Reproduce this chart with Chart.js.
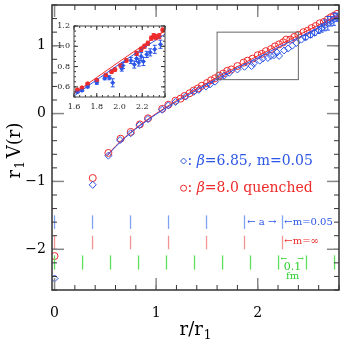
<!DOCTYPE html>
<html>
<head>
<meta charset="utf-8">
<script src="https://cdn.jsdelivr.net/npm/chart.js"></script>
<style>
  html, body { margin: 0; padding: 0; background: #fff; }
  #wrap { position: relative; width: 349px; height: 342px; }
  #main { position: absolute; left: 0; top: 0; }
  #inset { position: absolute; left: 40px; top: 20px; }
</style>
</head>
<body>
<div id="wrap">
  <canvas id="main" width="349" height="342"></canvas>
  <canvas id="inset" width="130" height="95"></canvas>
</div>
<script>
// tick labels
var xTickLabels = [0, 1, 2];
var yTickLabels = [-2, -1, 0, 1];
var insetXTicks = [1.6, 1.8, 2.0, 2.2];
var insetYTicks = [0.6, 0.8, 1.0, 1.2];

// lattice spacing a and 0.1 fm marks, in units of r1
var latticeTicks = [0, 0.374, 0.748, 1.122, 1.496, 1.870, 2.244];
var fmTicks = [0, 0.276, 0.551, 0.827, 1.102, 1.378, 1.654, 1.929, 2.205, 2.480, 2.756];

// beta=8.0 quenched (red circles)
var redX = [0.0, 0.376, 0.53, 0.65, 0.75, 0.84, 0.92, 1.06, 1.12, 1.19, 1.24, 1.28, 1.33, 1.37, 1.41, 1.45,
            1.50, 1.54, 1.58, 1.62, 1.66, 1.70, 1.74, 1.80, 1.86, 1.90, 1.95, 2.00, 2.04, 2.08, 2.13, 2.17,
            2.21, 2.25, 2.28, 2.32, 2.36, 2.40, 2.45, 2.49, 2.53, 2.57, 2.61, 2.65, 2.69, 2.72, 2.75, 2.78];
var redY = [-2.10, -0.95, -0.58, -0.37, -0.27, -0.16, -0.07, 0.07, 0.13, 0.19, 0.22, 0.26, 0.30, 0.34, 0.37, 0.41,
            0.45, 0.49, 0.52, 0.56, 0.59, 0.63, 0.65, 0.70, 0.75, 0.78, 0.81, 0.86, 0.88, 0.92, 0.95, 0.99,
            1.02, 1.05, 1.09, 1.09, 1.13, 1.16, 1.20, 1.22, 1.26, 1.29, 1.33, 1.35, 1.39, 1.42, 1.44, 1.47];

// beta=6.85, m=0.05 (blue diamonds)
var blueX = [0.0, 0.376, 0.53, 0.645, 0.75, 0.835, 0.92, 1.06, 1.12, 1.19, 1.29, 1.37, 1.42, 1.49, 1.53,
             1.58, 1.63, 1.67, 1.72, 1.80, 1.87, 1.94, 1.96, 2.02, 2.05, 2.10, 2.13, 2.16, 2.19, 2.21,
             2.26, 2.30, 2.34, 2.38, 2.43, 2.47, 2.52, 2.56, 2.60, 2.63, 2.66, 2.69, 2.72, 2.75, 2.78];
var blueY = [-2.43, -1.05, -0.62, -0.39, -0.29, -0.17, -0.08, 0.057, 0.12, 0.17, 0.25, 0.32, 0.35, 0.40, 0.43,
             0.47, 0.54, 0.56, 0.60, 0.65, 0.69, 0.70, 0.74, 0.78, 0.81, 0.82, 0.85, 0.86, 0.90, 0.85,
             0.93, 0.96, 1.00, 1.04, 1.09, 1.12, 1.16, 1.19, 1.23, 1.26, 1.30, 1.33, 1.36, 1.39, 1.42];
var blueErr = [0, 0, 0, 0, 0, 0, 0, 0, 0, 0, 0, 0, 0, 0, 0,
               0, 0, 0, 0, 0, 0, 0, 0, 0, 0, 0, 0, 0, 0, 0,
               0, 0, 0, 0, 0, 0.03, 0.04, 0.04, 0.05, 0.06, 0.08, 0.10, 0.07, 0.09, 0.06];

// fit curves
var fitX    = [0.52, 0.6, 0.7, 0.8, 0.9, 1.0, 1.2, 1.4, 1.6, 1.8, 2.0, 2.2, 2.4, 2.6, 2.8];
var fitRed  = [-0.613, -0.48, -0.339, -0.215, -0.103, 0.0, 0.19, 0.366, 0.533, 0.693, 0.85, 1.004, 1.155, 1.305, 1.453];
var fitBlue = [-0.62, -0.49, -0.35, -0.225, -0.115, -0.01, 0.175, 0.345, 0.51, 0.67, 0.825, 0.975, 1.12, 1.27, 1.42];

// inset
var insetRedX   = [1.63, 1.67, 1.72, 1.80, 1.88, 1.93, 1.96, 2.01, 2.06, 2.15, 2.19, 2.22, 2.25, 2.28, 2.30, 2.32, 2.35, 2.38];
var insetRedY   = [0.57, 0.59, 0.63, 0.665, 0.715, 0.75, 0.77, 0.81, 0.86, 0.93, 0.97, 1.00, 1.03, 1.08, 1.10, 1.09, 1.10, 1.16];
var insetRedErr = [0.01, 0.01, 0.01, 0.01, 0.012, 0.015, 0.015, 0.015, 0.015, 0.02, 0.02, 0.02, 0.02, 0.02, 0.025, 0.025, 0.025, 0.02];
var insetBlueX   = [1.63, 1.67, 1.72, 1.80, 1.87, 1.91, 1.94, 2.02, 2.03, 2.10, 2.13, 2.15, 2.17, 2.19, 2.21, 2.24, 2.27, 2.31, 2.36];
var insetBlueY   = [0.55, 0.565, 0.60, 0.64, 0.685, 0.69, 0.64, 0.78, 0.81, 0.86, 0.82, 0.88, 0.84, 0.90, 0.85, 0.92, 0.94, 0.97, 1.02];
var insetBlueErr = [0.01, 0.01, 0.01, 0.015, 0.015, 0.02, 0.04, 0.025, 0.03, 0.03, 0.035, 0.03, 0.035, 0.04, 0.04, 0.03, 0.035, 0.04, 0.04];

var BLUE = '#2b55e6', RED = '#ee2b2b', GREEN = '#2fcf2f';
var SERIF = '"DejaVu Serif", serif';

function pts(xs, ys) {
    return xs.map(function(x, i) { return {x: x, y: ys[i]}; });
}

function line(ctx, x1, y1, x2, y2) {
    ctx.beginPath();
    ctx.moveTo(x1, y1);
    ctx.lineTo(x2, y2);
    ctx.stroke();
}

function minorValues(min, max, step) {
    var out = [];
    for (var k = Math.ceil(min / step - 1e-9); k * step <= max + 1e-9; k++) out.push(k * step);
    return out;
}

// ticks pointing inward on all four sides, plus the frame
function drawBox(chart, o) {
    var ctx = chart.ctx, a = chart.chartArea, xs = chart.scales.x, ys = chart.scales.y;
    ctx.save();
    ctx.lineWidth = 1;
    ctx.strokeStyle = o.minorColor;
    minorValues(xs.min, xs.max, o.xStep).forEach(function(v) {
        var p = xs.getPixelForValue(v);
        line(ctx, p, a.bottom, p, a.bottom - o.minorLen);
        line(ctx, p, a.top, p, a.top + o.minorLen);
    });
    minorValues(ys.min, ys.max, o.yStep).forEach(function(v) {
        var p = ys.getPixelForValue(v);
        line(ctx, a.left, p, a.left + o.minorLen, p);
        line(ctx, a.right, p, a.right - o.minorLen, p);
    });
    ctx.strokeStyle = o.majorColor;
    ctx.lineWidth = o.majorWidth;
    o.xMajor.forEach(function(v) {
        var p = xs.getPixelForValue(v);
        line(ctx, p, a.bottom, p, a.bottom - o.majorLen);
        line(ctx, p, a.top, p, a.top + o.majorLen);
    });
    o.yMajor.forEach(function(v) {
        var p = ys.getPixelForValue(v);
        line(ctx, a.left, p, a.left + o.majorLen, p);
        line(ctx, a.right, p, a.right - o.majorLen, p);
    });
    ctx.strokeStyle = o.frameColor;
    ctx.lineWidth = o.frameWidth;
    ctx.strokeRect(a.left, a.top, a.right - a.left, a.bottom - a.top);
    ctx.restore();
}

var errorBars = {
    id: 'errorBars',
    afterDatasetsDraw: function(chart) {
        var ctx = chart.ctx, ys = chart.scales.y, a = chart.chartArea;
        ctx.save();
        ctx.beginPath();
        ctx.rect(a.left, a.top, a.right - a.left, a.bottom - a.top);
        ctx.clip();
        chart.data.datasets.forEach(function(ds, i) {
            if (!ds.errors) return;
            var meta = chart.getDatasetMeta(i);
            ctx.strokeStyle = ds.borderColor;
            ctx.lineWidth = 1;
            meta.data.forEach(function(el, j) {
                var e = ds.errors[j];
                if (!e) return;
                var y1 = ys.getPixelForValue(ds.data[j].y + e);
                var y2 = ys.getPixelForValue(ds.data[j].y - e);
                line(ctx, el.x, y1, el.x, y2);
                line(ctx, el.x - 2, y1, el.x + 2, y1);
                line(ctx, el.x - 2, y2, el.x + 2, y2);
            });
        });
        ctx.restore();
    }
};

// draws a row of text pieces one after the other, dy shifts a piece down (subscripts)
function runs(ctx, x, y, parts, base) {
    ctx.textBaseline = base || 'middle';
    ctx.textAlign = 'left';
    parts.forEach(function(p) {
        ctx.font = p.font;
        ctx.fillStyle = p.color;
        ctx.fillText(p.t, x, y + (p.dy || 0));
        x += ctx.measureText(p.t).width + (p.gap || 0);
    });
}

function runsWidth(ctx, parts) {
    var w = 0;
    parts.forEach(function(p) {
        ctx.font = p.font;
        w += ctx.measureText(p.t).width + (p.gap || 0);
    });
    return w;
}

var mainDecor = {
    id: 'mainDecor',
    afterDraw: function(chart) {
        var ctx = chart.ctx, xs = chart.scales.x, ys = chart.scales.y, a = chart.chartArea;
        var X = function(v) { return xs.getPixelForValue(v); };
        var Y = function(v) { return ys.getPixelForValue(v); };
        ctx.save();

        // inset region
        ctx.strokeStyle = '#666';
        ctx.lineWidth = 1;
        ctx.strokeRect(X(1.6), Y(1.2), X(2.4) - X(1.6), Y(0.5) - Y(1.2));

        // lattice spacing rows
        ctx.lineWidth = 1.3;
        ctx.strokeStyle = '#7fa2f2';
        latticeTicks.forEach(function(v) { line(ctx, X(v), Y(-1.50), X(v), Y(-1.70)); });
        ctx.strokeStyle = '#f29494';
        latticeTicks.forEach(function(v) { line(ctx, X(v), Y(-1.80), X(v), Y(-2.00)); });
        ctx.strokeStyle = '#5ee05e';
        fmTicks.forEach(function(v) { line(ctx, X(v), Y(-2.09), X(v), Y(-2.30)); });

        var small = '10px ' + SERIF;
        runs(ctx, X(2.045) - 15, Y(-1.61), [{t: '\u2190 a \u2192', font: small, color: BLUE}]);
        runs(ctx, X(2.262), Y(-1.61), [{t: '\u2190m=0.05', font: small, color: BLUE}]);
        runs(ctx, X(2.262), Y(-1.89), [{t: '\u2190m=\u221e', font: small, color: RED}]);
        runs(ctx, X(2.225), Y(-2.14), [{t: '\u2190', font: '8px ' + SERIF, color: GREEN}]);
        runs(ctx, X(2.39), Y(-2.14), [{t: '\u2192', font: '8px ' + SERIF, color: GREEN}]);
        ctx.textAlign = 'center';
        ctx.fillStyle = GREEN;
        ctx.font = '11px ' + SERIF;
        ctx.fillText('0.1', X(2.343), Y(-2.27));
        ctx.font = small;
        ctx.fillText('fm', X(2.343), Y(-2.40));

        // legend
        var big = '14px ' + SERIF, ital = 'italic 14px ' + SERIF;
        var lx = X(1.27), y1 = Y(-0.70), y2 = Y(-1.10);
        ctx.lineWidth = 1;
        ctx.strokeStyle = BLUE;
        ctx.beginPath();
        ctx.moveTo(lx, y1 - 3); ctx.lineTo(lx + 3, y1); ctx.lineTo(lx, y1 + 3); ctx.lineTo(lx - 3, y1);
        ctx.closePath();
        ctx.stroke();
        runs(ctx, lx + 4, y1, [
            {t: ': ', font: big, color: BLUE},
            {t: '\u03b2', font: ital, color: BLUE},
            {t: '=6.85, m=0.05', font: big, color: BLUE}
        ]);
        ctx.strokeStyle = RED;
        ctx.beginPath();
        ctx.arc(lx, y2, 3, 0, Math.PI * 2);
        ctx.stroke();
        runs(ctx, lx + 4, y2, [
            {t: ': ', font: big, color: RED},
            {t: '\u03b2', font: ital, color: RED},
            {t: '=8.0 quenched', font: big, color: RED}
        ]);

        // axis titles with real subscripts
        var tf = '18px ' + SERIF, sf = '12px ' + SERIF;
        var xt = [
            {t: 'r/r', font: tf, color: '#000', gap: 1},
            {t: '1', font: sf, color: '#000', dy: 4}
        ];
        runs(ctx, (a.left + a.right) / 2 - runsWidth(ctx, xt) / 2, 335, xt, 'alphabetic');
        var yt = [
            {t: 'r', font: tf, color: '#000', gap: 1},
            {t: '1', font: sf, color: '#000', dy: 4, gap: 3},
            {t: 'V(r)', font: tf, color: '#000'}
        ];
        ctx.translate(20, (a.top + a.bottom) / 2 + 3);
        ctx.rotate(-Math.PI / 2);
        runs(ctx, -runsWidth(ctx, yt) / 2, 0, yt, 'alphabetic');
        ctx.restore();

        drawBox(chart, {
            xStep: 0.2, yStep: 0.2, xMajor: xTickLabels, yMajor: yTickLabels,
            minorLen: 5, majorLen: 12, minorColor: '#333', majorColor: '#888', majorWidth: 1.5,
            frameColor: '#333', frameWidth: 1.5
        });
    }
};

var insetDecor = {
    id: 'insetDecor',
    afterDraw: function(chart) {
        drawBox(chart, {
            xStep: 0.05, yStep: 0.05, xMajor: [1.6, 1.8, 2.0, 2.2, 2.4], yMajor: insetYTicks,
            minorLen: 2, majorLen: 4, minorColor: '#333', majorColor: '#333', majorWidth: 1,
            frameColor: '#444', frameWidth: 1
        });
    }
};

function minusLabel(v) {
    return v < 0 ? '\u2212' + Math.abs(v) : String(v);
}

// keep the plot box exactly where the axes say, no label overhang padding
function fixX(h) {
    return function(s) { s.height = h; s.paddingLeft = 0; s.paddingRight = 0; };
}
function fixY(w) {
    return function(s) { s.width = w; s.paddingTop = 0; s.paddingBottom = 0; };
}

new Chart(document.getElementById('main'), {
    type: 'scatter',
    data: {
        datasets: [{
            data: pts(fitX, fitBlue), showLine: true, borderColor: BLUE, borderWidth: 1,
            pointRadius: 0, cubicInterpolationMode: 'monotone'
        }, {
            data: pts(fitX, fitRed), showLine: true, borderColor: RED, borderWidth: 1,
            pointRadius: 0, cubicInterpolationMode: 'monotone'
        }, {
            data: pts(blueX, blueY), errors: blueErr, borderColor: BLUE, backgroundColor: 'rgba(0,0,0,0)',
            pointStyle: 'rectRot', pointRadius: 3.5, borderWidth: 1
        }, {
            data: pts(redX, redY), borderColor: RED, backgroundColor: 'rgba(0,0,0,0)',
            pointStyle: 'circle', pointRadius: 3.5, borderWidth: 1
        }]
    },
    options: {
        responsive: false,
        animation: false,
        layout: {padding: {top: 4, right: 10, left: 0, bottom: 0}},
        plugins: {legend: {display: false}, tooltip: {enabled: false}},
        scales: {
            x: {
                type: 'linear', min: -0.025, max: 2.8,
                afterBuildTicks: function(s) { s.ticks = xTickLabels.map(function(v) { return {value: v}; }); },
                afterFit: fixX(52),
                grid: {display: false, drawTicks: false},
                border: {display: false},
                ticks: {font: {family: SERIF, size: 14}, color: '#000', padding: 15, maxRotation: 0,
                        autoSkip: false, callback: minusLabel},
                title: {display: false}
            },
            y: {
                type: 'linear', min: -2.6, max: 1.6,
                afterBuildTicks: function(s) { s.ticks = yTickLabels.map(function(v) { return {value: v}; }); },
                afterFit: fixY(52),
                grid: {display: false, drawTicks: false},
                border: {display: false},
                ticks: {font: {family: SERIF, size: 14}, color: '#000', padding: 6,
                        autoSkip: false, callback: minusLabel},
                title: {display: false}
            }
        }
    },
    plugins: [errorBars, mainDecor]
});

new Chart(document.getElementById('inset'), {
    type: 'scatter',
    data: {
        datasets: [{
            data: pts(fitX, fitBlue), showLine: true, borderColor: BLUE, borderWidth: 1,
            pointRadius: 0, cubicInterpolationMode: 'monotone', clip: 0
        }, {
            data: pts(fitX, fitRed), showLine: true, borderColor: RED, borderWidth: 1,
            pointRadius: 0, cubicInterpolationMode: 'monotone', clip: 0
        }, {
            data: pts(insetBlueX, insetBlueY), errors: insetBlueErr, borderColor: BLUE, backgroundColor: BLUE,
            pointStyle: 'rectRot', pointRadius: 2, borderWidth: 1, clip: 0
        }, {
            data: pts(insetRedX, insetRedY), errors: insetRedErr, borderColor: RED, backgroundColor: RED,
            pointStyle: 'circle', pointRadius: 2, borderWidth: 1, clip: 0
        }]
    },
    options: {
        responsive: false,
        animation: false,
        layout: {padding: {top: 6, right: 4, left: 0, bottom: 0}},
        plugins: {legend: {display: false}, tooltip: {enabled: false}},
        scales: {
            x: {
                type: 'linear', min: 1.6, max: 2.4,
                afterBuildTicks: function(s) { s.ticks = insetXTicks.map(function(v) { return {value: v}; }); },
                afterFit: fixX(18),
                grid: {display: false, drawTicks: false},
                border: {display: false},
                ticks: {font: {family: SERIF, size: 8}, color: '#222', padding: 5, maxRotation: 0,
                        autoSkip: false, callback: function(v) { return v.toFixed(1); }}
            },
            y: {
                type: 'linear', min: 0.5, max: 1.2,
                afterBuildTicks: function(s) { s.ticks = insetYTicks.map(function(v) { return {value: v}; }); },
                afterFit: fixY(34),
                grid: {display: false, drawTicks: false},
                border: {display: false},
                ticks: {font: {family: SERIF, size: 8}, color: '#222', padding: 4,
                        autoSkip: false, callback: function(v) { return v.toFixed(1); }}
            }
        }
    },
    plugins: [errorBars, insetDecor]
});
</script>
</body>
</html>
